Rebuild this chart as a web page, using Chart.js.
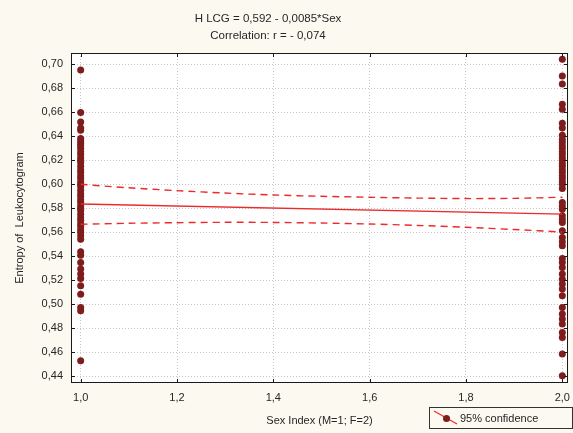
<!DOCTYPE html>
<html>
<head>
<meta charset="utf-8">
<script src="https://cdn.jsdelivr.net/npm/chart.js@4"></script>
<style>
  body { margin: 0; background: #fcf9f1; }
  canvas { display: block; }
</style>
</head>
<body>
<canvas id="scatterChart" width="573" height="433"></canvas>
<script>
// Entropy values, Sex = 1 (M) and Sex = 2 (F)
const maleValues = [0.6953, 0.6597, 0.6519, 0.6469, 0.6450,
  0.638, 0.636, 0.634, 0.632, 0.630, 0.627, 0.625, 0.622, 0.620, 0.618, 0.615, 0.612,
  0.610, 0.607, 0.605, 0.602, 0.600, 0.598, 0.595, 0.592, 0.590, 0.587, 0.585, 0.582,
  0.580, 0.578, 0.575, 0.572, 0.570, 0.567, 0.565, 0.562, 0.560, 0.557, 0.554,
  0.5436, 0.5408, 0.5347, 0.5292, 0.5250, 0.5214, 0.5153, 0.5083, 0.4972, 0.4944, 0.4528];
const femaleValues = [0.7042, 0.6903, 0.6836, 0.6667, 0.6625, 0.6508, 0.6469, 0.6408,
  0.6375, 0.635, 0.632, 0.630, 0.627, 0.625, 0.622, 0.620, 0.617, 0.615, 0.612, 0.610,
  0.607, 0.605, 0.602, 0.600, 0.5965,
  0.5847, 0.5819, 0.5790, 0.5736, 0.5708, 0.5680, 0.5611,
  0.5556, 0.5520, 0.5486, 0.5381, 0.5347, 0.5306, 0.5250, 0.5208, 0.5167, 0.5125,
  0.5069, 0.4972, 0.4917, 0.4875, 0.4833, 0.4764, 0.4722, 0.4583, 0.4403];

// fitted line H LCG = 0,592 - 0,0085*Sex
const fitX = [1.0, 2.0];
const fitY = [0.5835, 0.5750];

// 95% confidence band
const bandX = [1.0, 1.1, 1.2, 1.3, 1.4, 1.5, 1.6, 1.7, 1.8, 1.9, 2.0];
const bandUpper = [0.5999, 0.5970, 0.5946, 0.5926, 0.5910, 0.5899, 0.5891, 0.5884, 0.5880, 0.5882, 0.5891];
const bandLower = [0.5666, 0.5674, 0.5679, 0.5682, 0.5681, 0.5676, 0.5668, 0.5656, 0.5641, 0.5622, 0.5601];

const xTicks = [1.0, 1.2, 1.4, 1.6, 1.8, 2.0];
const yTicks = [0.44, 0.46, 0.48, 0.50, 0.52, 0.54, 0.56, 0.58, 0.60, 0.62, 0.64, 0.66, 0.68, 0.70];

const fontFamily = "'Liberation Sans', Arial, sans-serif";
const textColor = '#262626';
const lineColor = '#ec2a2a';
const dotColor = '#7f1c1c';

const pontos = (xs, ys) => xs.map((x, i) => ({ x: x, y: ys[i] }));

// white plot area on a cream page, box border and inward tick marks
const framePlugin = {
    id: 'frame',
    beforeDraw(chart) {
        const { ctx, chartArea: a } = chart;
        ctx.save();
        ctx.fillStyle = '#fcf9f1';
        ctx.fillRect(0, 0, chart.width, chart.height);
        ctx.fillStyle = '#ffffff';
        ctx.fillRect(a.left, a.top, a.right - a.left, a.bottom - a.top);
        ctx.restore();
    },
    afterDraw(chart) {
        const { ctx, chartArea: a, scales } = chart;
        ctx.save();
        ctx.strokeStyle = '#1a1a1a';
        ctx.lineWidth = 1;
        ctx.strokeRect(Math.round(a.left) + 0.5, Math.round(a.top) + 0.5,
            Math.round(a.right - a.left) - 1, Math.round(a.bottom - a.top) - 1);
        ctx.beginPath();
        xTicks.forEach(v => {
            const px = Math.round(scales.x.getPixelForValue(v)) + 0.5;
            ctx.moveTo(px, a.top); ctx.lineTo(px, a.top + 4);
            ctx.moveTo(px, a.bottom); ctx.lineTo(px, a.bottom - 4);
        });
        yTicks.forEach(v => {
            const py = Math.round(scales.y.getPixelForValue(v)) + 0.5;
            ctx.moveTo(a.left, py); ctx.lineTo(a.left + 4, py);
            ctx.moveTo(a.right, py); ctx.lineTo(a.right - 4, py);
        });
        ctx.stroke();

        // titles
        ctx.fillStyle = textColor;
        ctx.font = '11.5px ' + fontFamily;
        ctx.textAlign = 'center';
        ctx.textBaseline = 'middle';
        ctx.fillText('H LCG = 0,592 - 0,0085*Sex', 268, 19);
        ctx.fillText('Correlation: r = - 0,074', 268, 36);

        // legend box
        ctx.strokeStyle = '#333333';
        ctx.strokeRect(429.5, 407.5, 143, 21);
        ctx.strokeStyle = lineColor;
        ctx.lineWidth = 1.2;
        ctx.beginPath();
        ctx.moveTo(434, 411); ctx.lineTo(457, 424);
        ctx.stroke();
        ctx.fillStyle = dotColor;
        ctx.beginPath();
        ctx.arc(446.5, 418.5, 3.5, 0, Math.PI * 2);
        ctx.fill();
        ctx.fillStyle = textColor;
        ctx.font = '11px ' + fontFamily;
        ctx.textAlign = 'left';
        ctx.fillText('95% confidence', 460, 418.5);
        ctx.restore();
    }
};

const ctx = document.getElementById('scatterChart').getContext('2d');

const scatterChart = new Chart(ctx, {
    type: 'scatter',
    data: {
        datasets: [{
            label: 'Fit',
            data: pontos(fitX, fitY),
            showLine: true,
            pointRadius: 0,
            borderColor: lineColor,
            borderWidth: 1.4
        }, {
            label: 'Upper 95%',
            data: pontos(bandX, bandUpper),
            showLine: true,
            pointRadius: 0,
            borderColor: lineColor,
            borderWidth: 1.4,
            borderDash: [7, 5],
            tension: 0.3
        }, {
            label: 'Lower 95%',
            data: pontos(bandX, bandLower),
            showLine: true,
            pointRadius: 0,
            borderColor: lineColor,
            borderWidth: 1.4,
            borderDash: [7, 5],
            tension: 0.3
        }, {
            label: 'M',
            data: maleValues.map(v => ({ x: 1.0, y: v })),
            pointRadius: 3.5,
            pointBorderWidth: 0,
            backgroundColor: dotColor,
            borderColor: dotColor
        }, {
            label: 'F',
            data: femaleValues.map(v => ({ x: 2.0, y: v })),
            pointRadius: 3.5,
            pointBorderWidth: 0,
            backgroundColor: dotColor,
            borderColor: dotColor
        }]
    },
    options: {
        responsive: false,
        animation: false,
        devicePixelRatio: 1,
        layout: { padding: { top: 53, right: 5, left: 0, bottom: 0 } },
        plugins: {
            legend: { display: false },
            tooltip: { enabled: false }
        },
        scales: {
            x: {
                type: 'linear',
                min: 0.9799,
                max: 2.0118,
                afterBuildTicks: scale => { scale.ticks = xTicks.map(v => ({ value: v })); },
                afterFit: scale => {
                    scale.height = 50;
                    scale.paddingLeft = 0;
                    scale.paddingRight = 0;
                },
                grid: { color: '#c4c4c4', lineWidth: 1, drawTicks: false },
                border: { display: false, dash: [1, 2] },
                ticks: {
                    padding: 8,
                    color: textColor,
                    font: { family: fontFamily, size: 11 },
                    callback: v => v.toFixed(1).replace('.', ',')
                },
                title: {
                    display: true,
                    text: 'Sex Index (M=1; F=2)',
                    color: textColor,
                    font: { family: fontFamily, size: 11 },
                    padding: { top: 0, bottom: 5 }
                }
            },
            y: {
                min: 0.4342,
                max: 0.7094,
                afterBuildTicks: scale => { scale.ticks = yTicks.map(v => ({ value: v })); },
                afterFit: scale => {
                    scale.width = 71;
                    scale.paddingTop = 0;
                    scale.paddingBottom = 0;
                },
                grid: { color: '#c4c4c4', lineWidth: 1, drawTicks: false },
                border: { display: false, dash: [1, 2] },
                ticks: {
                    padding: 8,
                    color: textColor,
                    font: { family: fontFamily, size: 11 },
                    callback: v => v.toFixed(2).replace('.', ',')
                },
                title: {
                    display: true,
                    text: 'Entropy of  Leukocytogram',
                    color: textColor,
                    font: { family: fontFamily, size: 11 },
                    padding: { top: 13, bottom: 0 }
                }
            }
        }
    },
    plugins: [framePlugin]
});
</script>
</body>
</html>
